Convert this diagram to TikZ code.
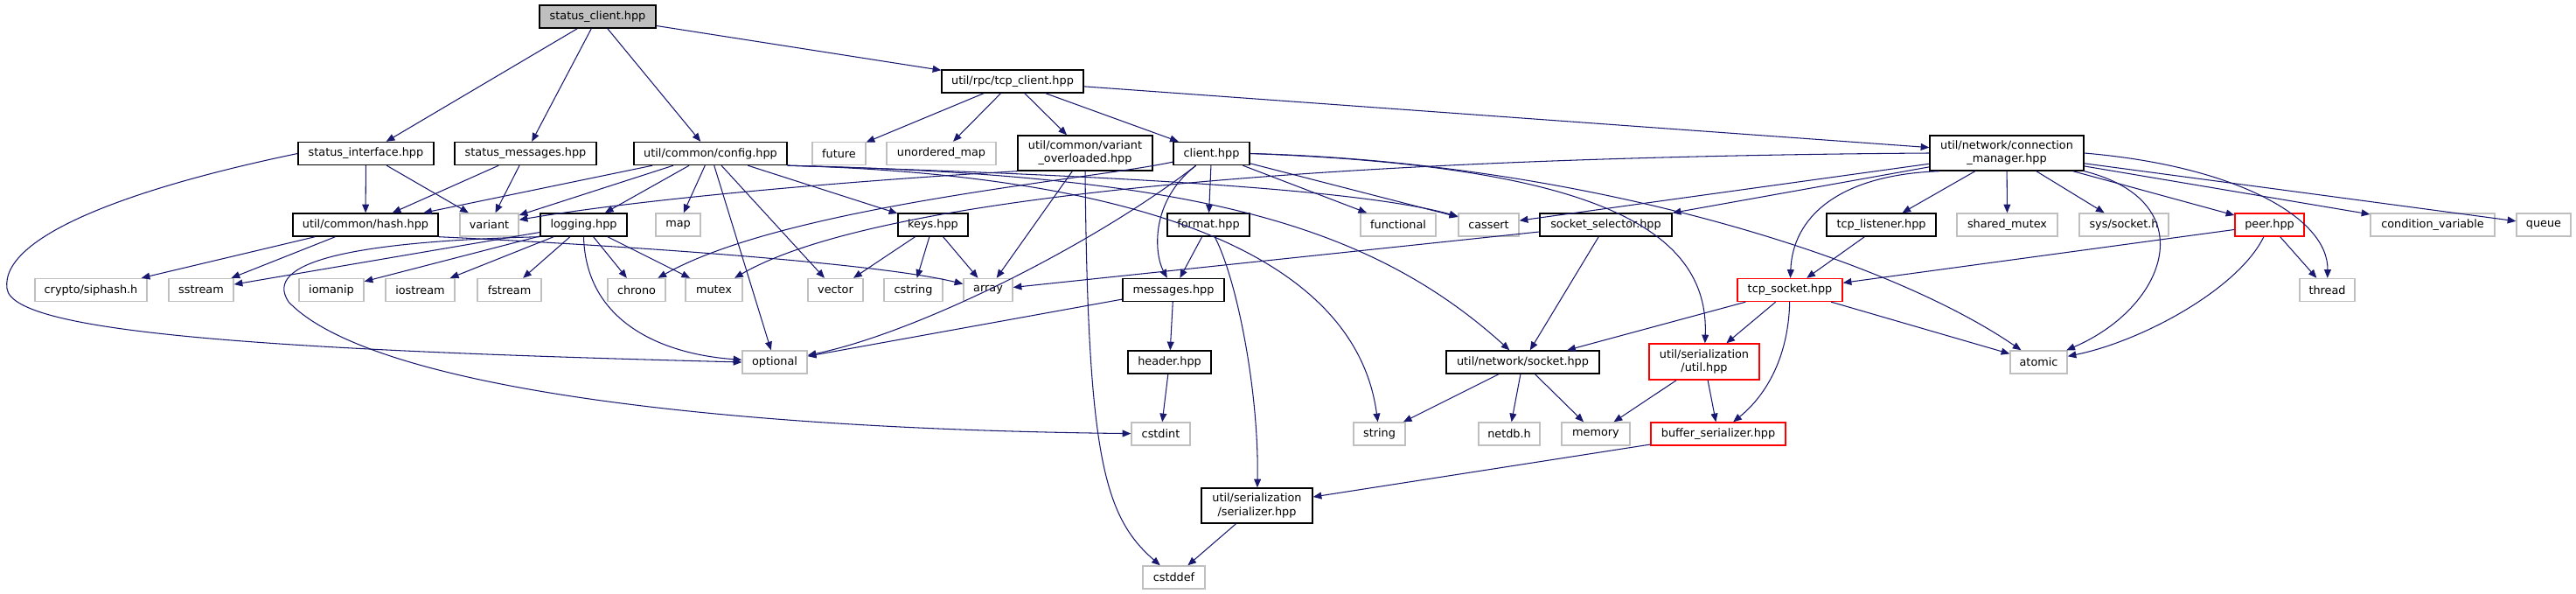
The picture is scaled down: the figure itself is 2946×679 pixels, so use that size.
\documentclass[tikz,border=0pt]{standalone}
\usepackage{fontspec}
\setmainfont{DejaVu Sans}
\usepackage{tikz}
\usetikzlibrary{arrows.meta}
\definecolor{edgeblue}{HTML}{191970}
\definecolor{sysgray}{HTML}{BFBFBF}

\begin{document}
\begin{tikzpicture}[
    x=0.02cm, y=-0.02cm,
    >={Triangle[length=5.5pt,width=4.5pt]},
    file/.style={draw=black, fill=white, line width=0.8pt, inner sep=1pt, align=center, minimum height=0.52cm, font=\fontsize{7.3}{8.6}\selectfont},
    root/.style={file, fill=black!25},
    sys/.style={file, draw=sysgray},
    trunc/.style={file, draw=red},
    arrow/.style={->, line width=0.6pt, draw=edgeblue}
  ]
    \useasboundingbox (0,0) rectangle (2946,679);

    \node[root, minimum width=2.66cm] (sc) at (683.5,19) {status\_client.hpp};
    \node[file, minimum width=3.24cm] (tcp) at (1158,93) {util/rpc/tcp\_client.hpp};

    \node[file, minimum width=3.10cm] (si) at (418.5,175.5) {status\_interface.hpp};
    \node[file, minimum width=3.24cm] (sm) at (601,175.5) {status\_messages.hpp};
    \node[file, minimum width=3.50cm] (cfg) at (812.5,175.5) {util/common/config.hpp};
    \node[sys, minimum width=1.22cm] (future) at (959.5,175.5) {future};
    \node[sys, minimum width=2.50cm] (umap) at (1076.5,175.5) {unordered\_map};
    \node[file, minimum width=3.08cm, minimum height=0.8cm] (vo) at (1241,175) {util/common/variant\\\_overloaded.hpp};
    \node[file, minimum width=1.74cm] (client) at (1385.5,175.5) {client.hpp};
    \node[file, minimum width=3.52cm, minimum height=0.8cm] (cm) at (2295,175) {util/network/connection\\\_manager.hpp};

    \node[file, minimum width=3.32cm] (hash) at (418,257) {util/common/hash.hpp};
    \node[sys, minimum width=1.34cm] (variant) at (559.5,257) {variant};
    \node[file, minimum width=1.98cm] (logging) at (667.5,257) {logging.hpp};
    \node[sys, minimum width=1.02cm] (map) at (775.5,257) {map};
    \node[file, minimum width=1.60cm] (keys) at (1067,257) {keys.hpp};
    \node[file, minimum width=1.88cm] (format) at (1382,257) {format.hpp};
    \node[sys, minimum width=1.72cm] (functional) at (1599,257) {functional};
    \node[sys, minimum width=1.38cm] (cassert) at (1702.5,257) {cassert};
    \node[file, minimum width=3.02cm] (ss) at (1836.5,257) {socket\_selector.hpp};
    \node[file, minimum width=2.50cm] (tl) at (2151.5,257) {tcp\_listener.hpp};
    \node[sys, minimum width=2.30cm] (shmutex) at (2295.5,257) {shared\_mutex};
    \node[sys, minimum width=2.04cm] (syssock) at (2429,257) {sys/socket.h};
    \node[trunc, minimum width=1.58cm] (peer) at (2595.5,257) {peer.hpp};
    \node[sys, minimum width=2.84cm] (condvar) at (2782,257) {condition\_variable};
    \node[sys, minimum width=1.24cm] (queue) at (2909,257) {queue};

    \node[sys, minimum width=2.56cm] (siphash) at (104,331.5) {crypto/siphash.h};
    \node[sys, minimum width=1.48cm] (sstream) at (230,331.5) {sstream};
    \node[sys, minimum width=1.48cm] (iomanip) at (379,331.5) {iomanip};
    \node[sys, minimum width=1.58cm] (iostream) at (480.5,331.5) {iostream};
    \node[sys, minimum width=1.46cm] (fstream) at (582.5,331.5) {fstream};
    \node[sys, minimum width=1.32cm] (chrono) at (728,331.5) {chrono};
    \node[sys, minimum width=1.30cm] (mutex) at (816.5,331.5) {mutex};
    \node[sys, minimum width=1.26cm] (vector) at (955.5,331.5) {vector};
    \node[sys, minimum width=1.34cm] (cstring) at (1044.5,331.5) {cstring};
    \node[sys, minimum width=1.12cm] (array) at (1130,331.5) {array};
    \node[file, minimum width=2.32cm] (messages) at (1342,331.5) {messages.hpp};
    \node[trunc, minimum width=2.40cm] (tcpsock) at (2047,331.5) {tcp\_socket.hpp};
    \node[sys, minimum width=1.26cm] (thread) at (2661.5,331.5) {thread};

    \node[sys, minimum width=1.48cm] (optional) at (886,414) {optional};
    \node[file, minimum width=1.90cm] (header) at (1337.5,414) {header.hpp};
    \node[file, minimum width=3.50cm] (socket) at (1741.5,414) {util/network/socket.hpp};
    \node[trunc, minimum width=2.52cm, minimum height=0.82cm] (sutil) at (1949,413.5) {util/serialization\\/util.hpp};
    \node[sys, minimum width=1.30cm] (atomic) at (2331.5,414) {atomic};

    \node[sys, minimum width=1.34cm] (cstdint) at (1327.5,496) {cstdint};
    \node[sys, minimum width=1.18cm] (string) at (1577.5,496) {string};
    \node[sys, minimum width=1.40cm] (netdb) at (1726,496) {netdb.h};
    \node[sys, minimum width=1.56cm] (memory) at (1825,496) {memory};
    \node[trunc, minimum width=3.08cm] (bufser) at (1965,496) {buffer\_serializer.hpp};

    \node[file, minimum width=2.54cm, minimum height=0.8cm] (serializer) at (1437.5,578) {util/serialization\\/serializer.hpp};
    \node[sys, minimum width=1.42cm] (cstddef) at (1342.5,660) {cstddef};

    \draw[arrow] (sc) -- (si);
    \draw[arrow] (sc) -- (sm);
    \draw[arrow] (sc) -- (cfg);
    \draw[arrow] (sc) -- (tcp);

    \draw[arrow] (si) -- (hash);
    \draw[arrow] (si) -- (variant);
    \draw[arrow] (si.west) .. controls (150,215) and (0,270) .. (8,330) .. controls (15,380) and (300,400) .. (optional.west);
    \draw[arrow] (sm) -- (hash);
    \draw[arrow] (sm) -- (variant);

    \draw[arrow] (cfg) -- (hash);
    \draw[arrow] (cfg) -- (variant);
    \draw[arrow] (cfg) -- (logging);
    \draw[arrow] (cfg) -- (map);
    \draw[arrow] (cfg) -- (optional);
    \draw[arrow] (cfg) -- (vector);
    \draw[arrow] (cfg) -- (keys);
    \draw[arrow] (cfg.south east) .. controls (1250,200) and (1550,215) .. (cassert);
    \draw[arrow] (cfg.south east) .. controls (1300,200) and (1550,290) .. (string);
    \draw[arrow] (cfg.south east) .. controls (1350,200) and (1560,250) .. (socket);

    \draw[arrow] (tcp) -- (future);
    \draw[arrow] (tcp) -- (umap);
    \draw[arrow] (tcp) -- (vo);
    \draw[arrow] (tcp) -- (client);
    \draw[arrow] (tcp) -- (cm);

    \draw[arrow] (hash) -- (siphash);
    \draw[arrow] (hash) -- (sstream);
    \draw[arrow] (hash.south east) .. controls (700,280) and (1000,300) .. (array);

    \draw[arrow] (logging) -- (sstream);
    \draw[arrow] (logging) -- (iomanip);
    \draw[arrow] (logging) -- (iostream);
    \draw[arrow] (logging) -- (fstream);
    \draw[arrow] (logging) -- (chrono);
    \draw[arrow] (logging) -- (mutex);
    \draw[arrow] (logging.south) .. controls (670,370) and (760,405) .. (optional);
    \draw[arrow] (logging.south west) .. controls (400,276) and (300,300) .. (330,345) .. controls (420,440) and (800,490) .. (cstdint);

    \draw[arrow] (keys) -- (vector);
    \draw[arrow] (keys) -- (cstring);
    \draw[arrow] (keys) -- (array);

    \draw[arrow] (vo) -- (array);
    \draw[arrow] (vo.south) .. controls (1244,520) and (1262,590) .. (cstddef);
    \draw[arrow] (vo.south west) .. controls (1000,205) and (750,225) .. (variant);

    \draw[arrow] (ss) -- (array);
    \draw[arrow] (ss) -- (socket);

    \draw[arrow] (format) -- (messages);
    \draw[arrow] (format) .. controls (1415,320) and (1440,450) .. (serializer);
    \draw[arrow] (messages) -- (header);
    \draw[arrow] (messages) -- (optional);
    \draw[arrow] (header) -- (cstdint);

    \draw[arrow] (client) -- (format);
    \draw[arrow] (client) .. controls (1315,230) and (1320,290) .. (messages);
    \draw[arrow] (client) -- (functional);
    \draw[arrow] (client) -- (cassert);
    \draw[arrow] (client) .. controls (1250,280) and (1050,380) .. (optional);
    \draw[arrow] (client) .. controls (1250,205) and (900,235) .. (chrono);
    \draw[arrow] (client.east) .. controls (1820,190) and (1955,260) .. (sutil);
    \draw[arrow] (client.east) .. controls (1800,185) and (2150,290) .. (atomic);

    \draw[arrow] (cm) -- (tl);
    \draw[arrow] (cm) -- (shmutex);
    \draw[arrow] (cm) -- (syssock);
    \draw[arrow] (cm) -- (peer);
    \draw[arrow] (cm) -- (condvar);
    \draw[arrow] (cm) -- (queue);
    \draw[arrow] (cm.east) .. controls (2560,190) and (2663,250) .. (thread);
    \draw[arrow] (cm.south east) .. controls (2520,230) and (2480,350) .. (atomic);
    \draw[arrow] (cm.195) .. controls (2100,200) and (2050,250) .. (tcpsock);
    \draw[arrow] (cm.west) .. controls (1500,180) and (1000,225) .. (mutex);
    \draw[arrow] (cm) -- (cassert);
    \draw[arrow] (cm) -- (ss);

    \draw[arrow] (peer) -- (tcpsock);
    \draw[arrow] (peer) -- (thread);
    \draw[arrow] (peer) .. controls (2560,330) and (2450,390) .. (atomic);
    \draw[arrow] (tl) -- (tcpsock);

    \draw[arrow] (tcpsock) -- (socket);
    \draw[arrow] (tcpsock) -- (sutil);
    \draw[arrow] (tcpsock) .. controls (2045,420) and (2010,460) .. (bufser);
    \draw[arrow] (tcpsock) -- (atomic);

    \draw[arrow] (socket) -- (string);
    \draw[arrow] (socket) -- (netdb);
    \draw[arrow] (socket) -- (memory);
    \draw[arrow] (sutil) -- (memory);
    \draw[arrow] (sutil) -- (bufser);
    \draw[arrow] (bufser) -- (serializer);
    \draw[arrow] (serializer) -- (cstddef);
  \end{tikzpicture}
\end{document}
